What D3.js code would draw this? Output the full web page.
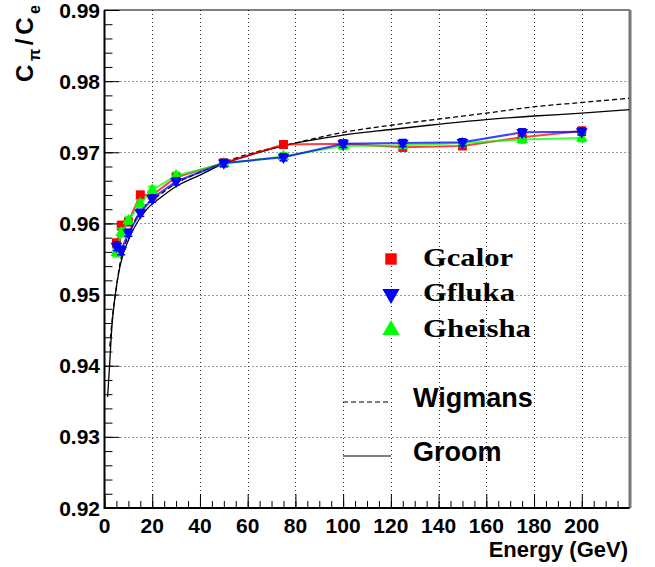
<!DOCTYPE html>
<meta charset="utf-8">
<head>
  <title>C_pi / C_e vs energy</title>
</head>
<script src="https://d3js.org/d3.v7.min.js"></script>
<body style="margin:0;background:#fff">
  <div id="my_dataviz"></div>
</body>

<script>
  // simulated points
  var energy = [5, 7, 10, 15, 20, 30, 50, 75, 100, 125, 150, 175, 200];
  var gcalor = [0.9572, 0.9597, 0.9602, 0.9640, 0.9640, 0.9665, 0.9685, 0.9711, 0.9712, 0.9707, 0.9709, 0.9721, 0.9730];
  var gfluka = [0.9568, 0.9562, 0.9587, 0.9615, 0.9635, 0.9659, 0.9685, 0.9693, 0.9712, 0.9713, 0.9714, 0.9728, 0.9729];
  var gheisha = [0.9559, 0.9587, 0.9604, 0.9628, 0.9647, 0.9667, 0.9684, 0.9694, 0.9709, 0.9710, 0.9713, 0.9718, 0.9720];
  var simErr = [0.0006, 0.0006, 0.0005, 0.0005, 0.0005, 0.0005, 0.0005, 0.0005, 0.0005, 0.0005, 0.0005, 0.0005, 0.0005];

  // model curves
  var groomE = [1.3, 2.1, 3.1, 4.5, 6.2, 8.2, 10, 12, 17.5, 23, 30, 40, 50, 60, 75, 100, 120, 136, 160, 180, 200, 220];
  var groomV = [0.9356, 0.9399, 0.9455, 0.9499, 0.9535, 0.9561, 0.9576, 0.9591, 0.9619, 0.9635, 0.9652, 0.9668, 0.9684, 0.9695, 0.9709, 0.9724, 0.9732, 0.9738, 0.9746, 0.9751, 0.9755, 0.9760];
  var wigE = [2.2, 3.4, 4.8, 6.8, 8, 10.7, 15, 20, 30, 40, 50, 60, 80, 100, 120, 136, 160, 180, 200, 220];
  var wigV = [0.9427, 0.9471, 0.9506, 0.9549, 0.9564, 0.9588, 0.9618, 0.9632, 0.9656, 0.9672, 0.9686, 0.9697, 0.9713, 0.9728, 0.9738, 0.9745, 0.9755, 0.9764, 0.9770, 0.9776];

  var xTicks = [0, 20, 40, 60, 80, 100, 120, 140, 160, 180, 200];
  var yTicks = [0.92, 0.93, 0.94, 0.95, 0.96, 0.97, 0.98, 0.99];

  var W = 655, H = 567;
  var pLeft = 104.5, pRight = 629.5, pTop = 10, pBottom = 508;

  var svg = d3.select("#my_dataviz")
    .append("svg")
    .attr("width", W)
    .attr("height", H)
    .style("display", "block");

  var x = d3.scaleLinear().domain([0, 220]).range([pLeft, pRight]);
  var y = d3.scaleLinear().domain([0.92, 0.99]).range([pBottom, pTop]);

  // grid
  var grid = svg.append("g")
    .attr("stroke", "#333")
    .attr("stroke-width", 1)
    .attr("stroke-dasharray", "1,3");
  grid.selectAll(".gx")
    .data(xTicks.filter(function (d) { return d > 0; }))
    .enter().append("line")
    .attr("x1", function (d) { return Math.round(x(d)) + 0.5; })
    .attr("x2", function (d) { return Math.round(x(d)) + 0.5; })
    .attr("y1", pTop).attr("y2", pBottom);
  grid.selectAll(".gy")
    .data(yTicks.slice(1, -1))
    .enter().append("line")
    .attr("y1", function (d) { return Math.round(y(d)) + 0.5; })
    .attr("y2", function (d) { return Math.round(y(d)) + 0.5; })
    .attr("x1", pLeft).attr("x2", pRight);

  // axes, ROOT style: ticks inside the frame
  var xAxis = d3.axisBottom(x).tickValues(xTicks).tickSize(-14).tickFormat("");
  var xMinor = d3.axisBottom(x).tickValues(d3.range(0, 221, 5)).tickSize(-7).tickFormat("");
  var yAxis = d3.axisLeft(y).tickValues(yTicks).tickSize(-15).tickFormat("");
  var yMinor = d3.axisLeft(y).tickValues(d3.range(0, 36).map(function (i) { return 0.92 + i * 0.002; })).tickSize(-8).tickFormat("");

  svg.append("g").attr("transform", "translate(0," + pBottom + ")").call(xMinor);
  svg.append("g").attr("transform", "translate(0," + pBottom + ")").call(xAxis);
  svg.append("g").attr("transform", "translate(" + pLeft + ",0)").call(yMinor);
  svg.append("g").attr("transform", "translate(" + pLeft + ",0)").call(yAxis);
  svg.selectAll(".domain").remove();
  svg.selectAll(".tick line").attr("stroke", "#000").attr("stroke-width", 1);

  // frame
  svg.append("rect")
    .attr("x", pLeft).attr("y", pTop)
    .attr("width", pRight - pLeft).attr("height", pBottom - pTop)
    .attr("fill", "none").attr("stroke", "#000").attr("stroke-width", 1);
  svg.append("line").attr("x1", pRight + 0.5).attr("x2", pRight + 0.5)
    .attr("y1", pTop).attr("y2", pBottom)
    .attr("stroke", "#777").attr("stroke-width", 3);
  svg.append("line").attr("x1", pLeft).attr("x2", pLeft)
    .attr("y1", pTop).attr("y2", pBottom + 1)
    .attr("stroke", "#000").attr("stroke-width", 2);
  svg.append("line").attr("x1", pLeft).attr("x2", pRight)
    .attr("y1", pBottom).attr("y2", pBottom)
    .attr("stroke", "#000").attr("stroke-width", 2);

  // tick labels
  var lab = svg.append("g")
    .style("font-family", "'Liberation Sans', Arial, sans-serif")
    .style("font-weight", "bold")
    .style("font-size", "21px");
  lab.selectAll(".xl").data(xTicks).enter().append("text")
    .attr("x", function (d) { return x(d); })
    .attr("y", 533)
    .attr("text-anchor", "middle")
    .text(function (d) { return d; });
  lab.selectAll(".yl").data(yTicks).enter().append("text")
    .attr("x", 100)
    .attr("y", function (d) { return y(d); })
    .attr("dy", "0.36em")
    .attr("text-anchor", "end")
    .text(function (d) { return d3.format(".2f")(d); });

  // axis titles
  svg.append("text")
    .attr("x", 628).attr("y", 557)
    .attr("text-anchor", "end")
    .style("font-family", "'Liberation Sans', Arial, sans-serif")
    .style("font-weight", "bold").style("font-size", "22px")
    .text("Energy (GeV)");
  var yt = svg.append("text")
    .attr("transform", "translate(33,5) rotate(-90)")
    .attr("text-anchor", "end")
    .attr("textLength", 77).attr("lengthAdjust", "spacing")
    .style("font-family", "'Liberation Sans', Arial, sans-serif")
    .style("font-weight", "bold").style("font-size", "24px");
  yt.append("tspan").text("C");
  yt.append("tspan").attr("dy", 7).style("font-size", "16px").text("π");
  yt.append("tspan").attr("dy", -7).text("/C");
  yt.append("tspan").attr("dy", 7).style("font-size", "16px").text("e");

  // model curves
  svg.append("clipPath").attr("id", "frameclip")
    .append("rect").attr("x", pLeft).attr("y", pTop)
    .attr("width", pRight - pLeft).attr("height", pBottom - pTop);
  var curve = d3.line().curve(d3.curveMonotoneX)
    .x(function (d) { return x(d[0]); })
    .y(function (d) { return y(d[1]); });
  svg.append("path")
    .datum(d3.zip(wigE, wigV))
    .attr("d", curve)
    .attr("clip-path", "url(#frameclip)")
    .attr("fill", "none").attr("stroke", "#000")
    .attr("stroke-width", 1.3).attr("stroke-dasharray", "5,3");
  svg.append("path")
    .datum(d3.zip(groomE, groomV))
    .attr("d", curve)
    .attr("clip-path", "url(#frameclip)")
    .attr("fill", "none").attr("stroke", "#000")
    .attr("stroke-width", 1.3);

  // simulated series
  var series = [
    { name: "Gcalor", vals: gcalor, color: "#ff0000", shape: d3.symbolSquare, rot: 0, size: 80 },
    { name: "Gheisha", vals: gheisha, color: "#00ff00", shape: d3.symbolTriangle, rot: 0, size: 60 },
    { name: "Gfluka", vals: gfluka, color: "#0000ff", shape: d3.symbolTriangle, rot: 180, size: 60 }
  ];
  var poly = d3.line()
    .x(function (d) { return x(d[0]); })
    .y(function (d) { return y(d[1]); });

  series.forEach(function (s) {
    var pts = d3.zip(energy, s.vals, simErr);
    var g = svg.append("g");
    g.append("path")
      .datum(pts)
      .attr("d", poly)
      .attr("fill", "none")
      .attr("stroke", s.color)
      .attr("stroke-opacity", 0.75)
      .attr("stroke-width", 2);
    var eb = g.selectAll(".err").data(pts).enter().append("g").attr("stroke", s.color).attr("stroke-width", 1.5);
    eb.append("line")
      .attr("x1", function (d) { return x(d[0]); }).attr("x2", function (d) { return x(d[0]); })
      .attr("y1", function (d) { return y(d[1] - d[2]); }).attr("y2", function (d) { return y(d[1] + d[2]); });
    eb.append("line")
      .attr("x1", function (d) { return x(d[0]) - 4; }).attr("x2", function (d) { return x(d[0]) + 4; })
      .attr("y1", function (d) { return y(d[1] + d[2]); }).attr("y2", function (d) { return y(d[1] + d[2]); });
    eb.append("line")
      .attr("x1", function (d) { return x(d[0]) - 4; }).attr("x2", function (d) { return x(d[0]) + 4; })
      .attr("y1", function (d) { return y(d[1] - d[2]); }).attr("y2", function (d) { return y(d[1] - d[2]); });
    g.selectAll(".mk").data(pts).enter().append("path")
      .attr("d", d3.symbol().type(s.shape).size(s.size))
      .attr("transform", function (d) { return "translate(" + x(d[0]) + "," + y(d[1]) + ") rotate(" + s.rot + ")"; })
      .attr("fill", s.color);
  });

  // legend
  var legend = [
    { name: "Gcalor", color: "#ff0000", shape: d3.symbolSquare, rot: 0, ly: 259, len: 90 },
    { name: "Gfluka", color: "#0000ff", shape: d3.symbolTriangle, rot: 180, ly: 294, len: 92 },
    { name: "Gheisha", color: "#00ff00", shape: d3.symbolTriangle, rot: 0, ly: 330, len: 108 }
  ];
  var lg = svg.append("g");
  legend.forEach(function (l) {
    lg.append("path")
      .attr("d", d3.symbol().type(l.shape).size(130))
      .attr("transform", "translate(391," + l.ly + ") rotate(" + l.rot + ")")
      .attr("fill", l.color);
    lg.append("text")
      .attr("x", 423).attr("y", l.ly + 7)
      .attr("textLength", l.len).attr("lengthAdjust", "spacingAndGlyphs")
      .style("font-family", "'Liberation Serif', 'Times New Roman', serif")
      .style("font-weight", "bold").style("font-size", "26px")
      .text(l.name);
  });
  var models = [
    { name: "Wigmans", dash: "5,3", ly: 402 },
    { name: "Groom", dash: null, ly: 456 }
  ];
  models.forEach(function (m) {
    lg.append("line")
      .attr("x1", 343).attr("x2", 391)
      .attr("y1", m.ly).attr("y2", m.ly)
      .attr("stroke", "#000").attr("stroke-width", 1.2)
      .attr("stroke-dasharray", m.dash);
    lg.append("text")
      .attr("x", 413).attr("y", m.ly + 5)
      .style("font-family", "'Liberation Sans', Arial, sans-serif")
      .style("font-weight", "bold").style("font-size", "27px")
      .text(m.name);
  });
</script>
